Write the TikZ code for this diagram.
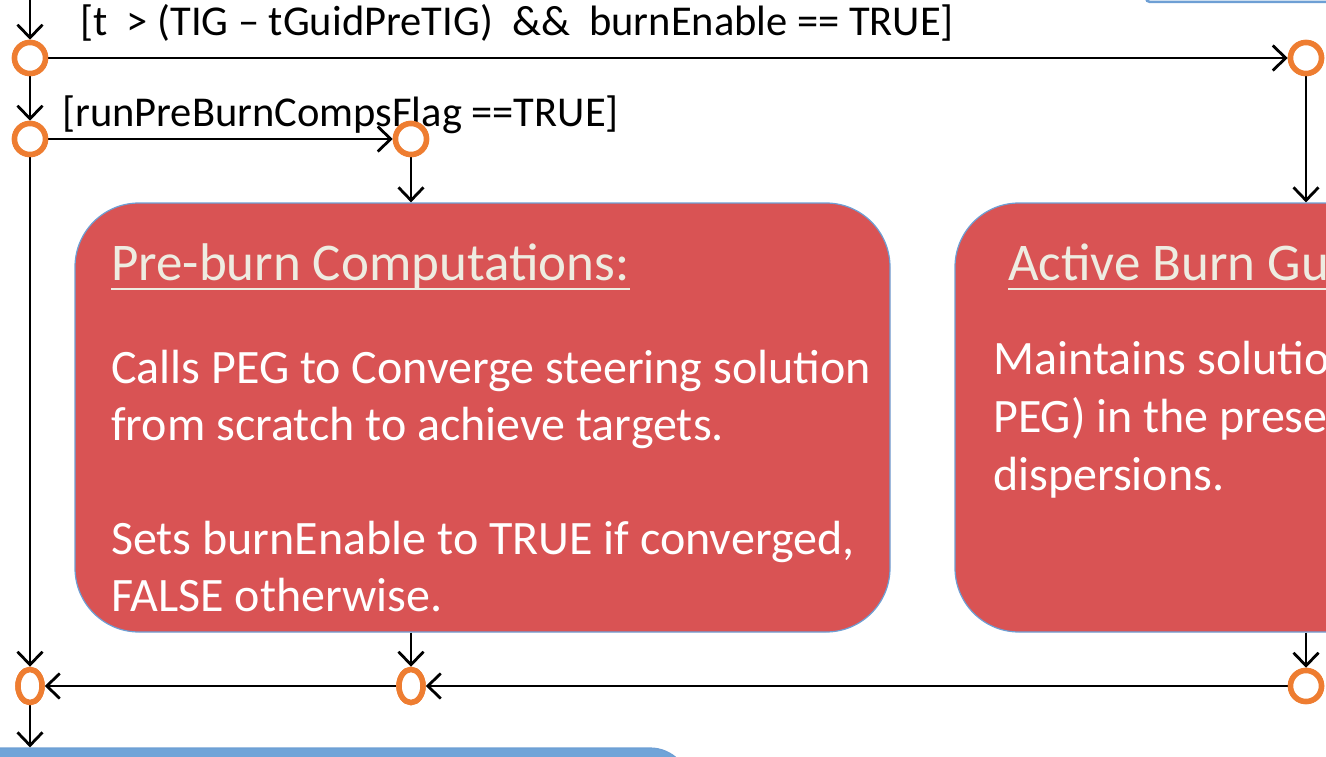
\documentclass[tikz,border=0pt]{standalone}
\usepackage{fontspec}
\setmainfont{Carlito}
\usetikzlibrary{arrows.meta,shapes.geometric}
\definecolor{boxred}{HTML}{D95354}
\definecolor{boxedge}{HTML}{6E9FD4}
\definecolor{bluebox}{HTML}{70A4D8}
\definecolor{junc}{HTML}{EE7D31}
\definecolor{cream}{HTML}{EEECE1}
\tikzset{
  arr/.style={line width=2.8pt, draw=black, -{Straight Barb[length=13pt,width=25pt,line width=2.8pt]}},
  jn/.style={circle, draw=junc, line width=5.5pt, fill=white, minimum size=31pt, inner sep=0pt},
  jne/.style={ellipse, draw=junc, line width=5.5pt, fill=white, minimum width=24pt, minimum height=33pt, inner sep=0pt},
  redbox/.style={draw=boxedge, line width=1.2pt, fill=boxred, rounded corners=64pt, inner sep=0pt},
  hdr/.style={anchor=base west, inner sep=0pt, text=cream, font=\fontsize{53}{60}\selectfont},
  body/.style={anchor=base west, inner sep=0pt, text=white, font=\fontsize{48}{57}\selectfont},
  lbl/.style={anchor=base west, inner sep=0pt, text=black, font=\fontsize{42.5}{48}\selectfont},
}
\begin{document}
\begin{tikzpicture}[x=1pt,y=-1pt]
\useasboundingbox (0,0) rectangle (1326,757);
\clip (0,0) rectangle (1326,757);
% boxes
\node[redbox, minimum width=815pt, minimum height=429pt] (pre) at (482.5,417.5) {};
\node[redbox, minimum width=815pt, minimum height=429pt] (act) at (1362.5,417.5) {};
\node[draw=boxedge, line width=1.2pt, fill=bluebox, rounded corners=40pt, minimum width=800pt, minimum height=120pt, inner sep=0pt] (next) at (290,808) {};
\node[draw=boxedge, line width=2.5pt, fill=white, rounded corners=4pt, minimum width=240pt, minimum height=60pt, inner sep=0pt] (prev) at (1266,-28) {};
% junctions
\coordinate (top) at (30,-5);
\node[jn] (c1) at (30,58) {};
\node[jn] (c2) at (30,139) {};
\node[jn] (c3) at (411,139) {};
\node[jn] (c4) at (1306,58) {};
\node[jne] (c5) at (30,686) {};
\node[jne] (c6) at (411,686) {};
\node[jn] (c7) at (1306,686) {};
% connectors
\draw[arr] (top) -- (c1);
\draw[arr] (c1) -- (c2);
\draw[arr] (c1) -- (c4);
\draw[arr] (c2) -- (c3);
\draw[arr] (c3) -- (c3 |- pre.north);
\draw[arr] (c4) -- (c4 |- act.north);
\draw[arr] (pre.south -| c6) -- (c6);
\draw[arr] (act.south -| c7) -- (c7);
\draw[arr] (c7) -- (c6);
\draw[arr] (c6) -- (c5);
\draw[arr] (c2) -- (c5);
\draw[arr] (c5) -- (c5 |- next.north);
% redraw junctions above lines
\node[jn] at (c1) {};
\node[jn] at (c2) {};
\node[jn] at (c4) {};
\node[jne] at (c5) {};
\node[jne] at (c6) {};
\node[jn] at (c7) {};
% guard labels
\node[lbl] (g1) at (80,36) {[t\ \ > (TIG – tGuidPreTIG)\ \ \&\&\ \ burnEnable == TRUE]};
\node[lbl] (g2) at (62,127) {[runPreBurnCompsFlag ==TRUE]};
\node[jn] at (c3) {};
% box texts
\node[hdr] (h1) at (111,280) {Pre-burn Computations:};
\draw[cream, line width=2.5pt] ([yshift=-9pt]h1.base west) -- ([yshift=-9pt]h1.base east);
\node[body] (b1a) at (111,383) {Calls PEG to Converge steering solution};
\node[body] (b1b) at (111,440) {from scratch to achieve targets.};
\node[body] (b1c) at (111,554) {Sets burnEnable to TRUE if converged,};
\node[body] (b1d) at (111,611) {FALSE otherwise.};
\node[hdr] (h2) at (1008,280) {Active Burn Guidance:};
\draw[cream, line width=2.5pt] ([yshift=-9pt]h2.base west) -- ([yshift=-9pt]h2.base east);
\node[body] (b2a) at (993,374) {Maintains solution (using};
\node[body] (b2b) at (993,432) {PEG) in the presence of};
\node[body] (b2c) at (993,490) {dispersions.};
\end{tikzpicture}
\end{document}
